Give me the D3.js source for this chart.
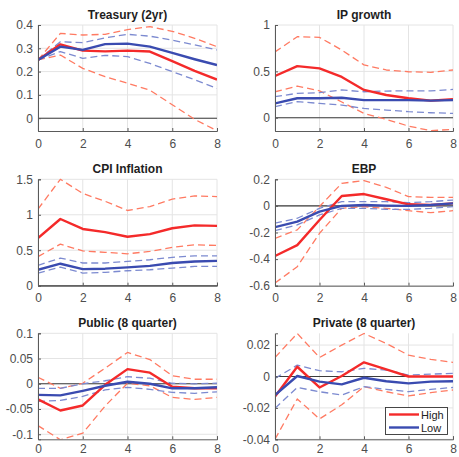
<!DOCTYPE html>
<html>
<head>
<meta charset="utf-8">
<script src="https://cdn.jsdelivr.net/npm/d3@7"></script>
<style>
  html, body { margin: 0; padding: 0; background: #fff; }
  svg { display: block; font-family: "Liberation Sans", Arial, sans-serif; }
</style>
</head>
<body>
<svg id="chart" width="459" height="457"></svg>
<script>
// Impulse responses, quarters 0..8, for the High and Low regimes
const quarters = [0, 1, 2, 3, 4, 5, 6, 7, 8];
const xTicks = [0, 2, 4, 6, 8];

const panelTitles = ["Treasury (2yr)", "IP growth", "CPI Inflation", "EBP", "Public (8 quarter)", "Private (8 quarter)"];
const yDomains = [[-0.055, 0.4], [-0.143, 1], [0, 1.5], [-0.6, 0.2], [-0.11, 0.1], [-0.04, 0.0275]];
const yTicks = [
  [0, 0.1, 0.2, 0.3, 0.4],
  [0, 0.5, 1],
  [0, 0.5, 1, 1.5],
  [-0.6, -0.4, -0.2, 0, 0.2],
  [-0.1, -0.05, 0, 0.05, 0.1],
  [-0.04, -0.02, 0, 0.02]
];
const yTickLabels = [
  ["0", "0.1", "0.2", "0.3", "0.4"],
  ["0", "0.5", "1"],
  ["0", "0.5", "1", "1.5"],
  ["-0.6", "-0.4", "-0.2", "0", "0.2"],
  ["-0.1", "-0.05", "0", "0.05", "0.1"],
  ["-0.04", "-0.02", "0", "0.02"]
];

// Treasury (2yr)
const treasuryHigh   = [0.25, 0.317, 0.29, 0.287, 0.29, 0.286, 0.245, 0.203, 0.166];
const treasuryHighUp = [0.25, 0.364, 0.357, 0.36, 0.38, 0.393, 0.373, 0.343, 0.307];
const treasuryHighLo = [0.25, 0.271, 0.214, 0.178, 0.15, 0.12, 0.058, -0.005, -0.054];
const treasuryLow    = [0.25, 0.307, 0.293, 0.318, 0.32, 0.307, 0.28, 0.253, 0.228];
const treasuryLowUp  = [0.25, 0.328, 0.324, 0.345, 0.36, 0.352, 0.335, 0.315, 0.293];
const treasuryLowLo  = [0.25, 0.286, 0.257, 0.27, 0.264, 0.235, 0.2, 0.165, 0.128];

// IP growth
const ipHigh   = [0.45, 0.557, 0.532, 0.44, 0.30, 0.245, 0.21, 0.185, 0.2];
const ipHighUp = [0.71, 0.874, 0.867, 0.73, 0.57, 0.515, 0.496, 0.49, 0.515];
const ipHighLo = [0.28, 0.342, 0.29, 0.17, 0.047, -0.018, -0.09, -0.14, -0.125];
const ipLow    = [0.155, 0.21, 0.21, 0.215, 0.19, 0.19, 0.19, 0.185, 0.19];
const ipLowUp  = [0.227, 0.263, 0.27, 0.30, 0.28, 0.288, 0.29, 0.29, 0.305];
const ipLowLo  = [0.12, 0.173, 0.155, 0.137, 0.10, 0.083, 0.065, 0.054, 0.047];

// CPI Inflation
const cpiHigh   = [0.67, 0.94, 0.80, 0.755, 0.69, 0.727, 0.81, 0.85, 0.844];
const cpiHighUp = [1.08, 1.5, 1.30, 1.19, 1.06, 1.116, 1.22, 1.266, 1.256];
const cpiHighLo = [0.41, 0.586, 0.49, 0.47, 0.45, 0.483, 0.54, 0.577, 0.567];
const cpiLow    = [0.225, 0.31, 0.234, 0.24, 0.258, 0.28, 0.32, 0.342, 0.35];
const cpiLowUp  = [0.286, 0.39, 0.32, 0.32, 0.342, 0.366, 0.40, 0.42, 0.42];
const cpiLowLo  = [0.178, 0.262, 0.178, 0.188, 0.211, 0.225, 0.248, 0.272, 0.272];

// EBP
const ebpHigh   = [-0.377, -0.295, -0.106, 0.074, 0.089, 0.05, 0.012, 0.007, 0.019];
const ebpHighUp = [-0.244, -0.18, -0.005, 0.17, 0.19, 0.14, 0.07, 0.064, 0.064];
const ebpHighLo = [-0.58, -0.457, -0.206, -0.018, -0.006, -0.018, -0.036, -0.051, -0.036];
const ebpLow    = [-0.16, -0.118, -0.043, 0, 0.007, 0.002, 0, 0.007, 0.019];
const ebpLowUp  = [-0.13, -0.093, -0.018, 0.032, 0.032, 0.032, 0.024, 0.032, 0.044];
const ebpLowLo  = [-0.186, -0.143, -0.068, -0.018, -0.018, -0.026, -0.026, -0.018, -0.006];

// Public (8 quarter)
const pubHigh   = [-0.031, -0.053, -0.043, -0.002, 0.029, 0.022, -0.006, -0.009, -0.009];
const pubHighUp = [0.013, -0.009, 0.001, 0.031, 0.062, 0.048, 0.016, 0.009, 0.009];
const pubHighLo = [-0.083, -0.111, -0.098, -0.044, 0.001, -0.004, -0.027, -0.031, -0.027];
const pubLow    = [-0.022, -0.023, -0.014, -0.004, 0.004, 0, -0.009, -0.009, -0.007];
const pubLowUp  = [-0.009, -0.009, 0, 0.006, 0.014, 0.011, 0.001, 0, 0.001];
const pubLowLo  = [-0.035, -0.033, -0.025, -0.012, -0.007, -0.011, -0.017, -0.019, -0.016];

// Private (8 quarter)
const privHigh   = [-0.0128, 0.0062, -0.007, 0.0003, 0.009, 0.0045, 0, 0, 0];
const privHighUp = [0.0121, 0.0274, 0.0121, 0.02, 0.0274, 0.021, 0.0136, 0.0109, 0.009];
const privHighLo = [-0.04, -0.0143, -0.027, -0.018, -0.0065, -0.0097, -0.0124, -0.0103, -0.0086];
const privLow    = [-0.0118, 0.0003, -0.0033, -0.005, -0.0008, -0.003, -0.0044, -0.0033, -0.003];
const privLowUp  = [-0.0012, 0.0072, 0.0037, 0.003, 0.0052, 0.0041, 0.0009, 0.0015, 0.002];
const privLowLo  = [-0.0203, -0.007, -0.0097, -0.0118, -0.0065, -0.0082, -0.0097, -0.0082, -0.007];

const panelSeries = [
  { high: treasuryHigh, highUp: treasuryHighUp, highLo: treasuryHighLo, low: treasuryLow, lowUp: treasuryLowUp, lowLo: treasuryLowLo },
  { high: ipHigh, highUp: ipHighUp, highLo: ipHighLo, low: ipLow, lowUp: ipLowUp, lowLo: ipLowLo },
  { high: cpiHigh, highUp: cpiHighUp, highLo: cpiHighLo, low: cpiLow, lowUp: cpiLowUp, lowLo: cpiLowLo },
  { high: ebpHigh, highUp: ebpHighUp, highLo: ebpHighLo, low: ebpLow, lowUp: ebpLowUp, lowLo: ebpLowLo },
  { high: pubHigh, highUp: pubHighUp, highLo: pubHighLo, low: pubLow, lowUp: pubLowUp, lowLo: pubLowLo },
  { high: privHigh, highUp: privHighUp, highLo: privHighLo, low: privLow, lowUp: privLowUp, lowLo: privLowLo }
];

const legendLabels = ["High", "Low"];

// Layout of the 3x2 grid of axes
const colX = [[38, 217], [275, 453]];
const rowY = [[25, 131], [179.3, 285.7], [333.3, 439.3]];
const xLabelPad = [8, 8, 5.5];

const COLORS = {
  high: "#f42a2a",
  highBand: "#ff7a62",
  low: "#3a4bb0",
  lowBand: "#7c8ad0",
  axis: "#5a5a5a",
  grid: "#e4e4e4",
  zero: "#3c3c3c",
  tickText: "#4d4d4d",
  title: "#1e1e1e"
};

const svg = d3.select("#chart");

panelTitles.forEach((title, i) => {
  const col = i % 2, row = Math.floor(i / 2);
  const [x0, x1] = colX[col];
  const [y0, y1] = rowY[row];
  const x = d3.scaleLinear().domain([0, 8]).range([x0, x1]);
  const y = d3.scaleLinear().domain(yDomains[i]).range([y1, y0]);
  const g = svg.append("g");

  // grid
  g.append("g").selectAll("line.gx").data(xTicks).join("line")
    .attr("x1", d => x(d)).attr("x2", d => x(d))
    .attr("y1", y0).attr("y2", y1)
    .attr("stroke", COLORS.grid).attr("stroke-width", 1);
  g.append("g").selectAll("line.gy").data(yTicks[i]).join("line")
    .attr("x1", x0).attr("x2", x1)
    .attr("y1", d => y(d)).attr("y2", d => y(d))
    .attr("stroke", COLORS.grid).attr("stroke-width", 1);

  // zero reference line
  g.append("line")
    .attr("x1", x0).attr("x2", x1)
    .attr("y1", y(0)).attr("y2", y(0))
    .attr("stroke", COLORS.zero).attr("stroke-width", 1.1);

  // clip the curves to the axes box
  const clipId = "clip" + i;
  svg.append("clipPath").attr("id", clipId)
    .append("rect").attr("x", x0).attr("y", y0 - 1)
    .attr("width", x1 - x0).attr("height", y1 - y0 + 1);

  const line = d3.line().x((d, k) => x(quarters[k])).y(d => y(d));
  const s = panelSeries[i];
  const curves = g.append("g").attr("clip-path", `url(#${clipId})`);

  const draw = (vals, color, width, dash) => {
    curves.append("path").datum(vals)
      .attr("d", line)
      .attr("fill", "none")
      .attr("stroke", color)
      .attr("stroke-width", width)
      .attr("stroke-linejoin", "round")
      .attr("stroke-dasharray", dash || null);
  };

  draw(s.highUp, COLORS.highBand, 1.3, "7,4");
  draw(s.highLo, COLORS.highBand, 1.3, "7,4");
  draw(s.lowUp, COLORS.lowBand, 1.3, "7,4");
  draw(s.lowLo, COLORS.lowBand, 1.3, "7,4");
  draw(s.high, COLORS.high, 2.4);
  draw(s.low, COLORS.low, 2.4);

  // axes (left and bottom, ticks pointing inward)
  const xAxis = d3.axisBottom(x).tickValues(xTicks).tickSize(-3).tickPadding(xLabelPad[row]).tickFormat(d3.format("d"));
  const yAxis = d3.axisLeft(y).tickValues(yTicks[i]).tickSize(-3).tickPadding(5)
    .tickFormat((d, k) => yTickLabels[i][k]);

  const gx = g.append("g").attr("transform", `translate(0,${y1})`).call(xAxis);
  const gy = g.append("g").attr("transform", `translate(${x0},0)`).call(yAxis);
  [gx, gy].forEach(a => {
    a.select(".domain").attr("stroke", COLORS.axis).attr("stroke-width", 1);
    a.selectAll(".tick line").attr("stroke", COLORS.axis);
    a.selectAll(".tick text")
      .attr("fill", COLORS.tickText)
      .style("font-size", "12px")
      .style("font-family", "'Liberation Sans', Arial, sans-serif");
  });

  // title
  g.append("text")
    .attr("x", (x0 + x1) / 2).attr("y", y0 - 6)
    .attr("text-anchor", "middle")
    .attr("fill", COLORS.title)
    .style("font-size", "12px").style("font-weight", "bold")
    .text(title);
});

// legend in the last panel
const lg = svg.append("g");
lg.append("rect").attr("x", 385.5).attr("y", 407.5).attr("width", 62).attr("height", 27)
  .attr("fill", "#fff").attr("stroke", "#333").attr("stroke-width", 0.9);
const legendColors = [COLORS.high, COLORS.low];
legendLabels.forEach((lab, k) => {
  const yy = 414.5 + k * 13;
  lg.append("line").attr("x1", 389).attr("x2", 419).attr("y1", yy).attr("y2", yy)
    .attr("stroke", legendColors[k]).attr("stroke-width", 2.4);
  lg.append("text").attr("x", 421).attr("y", yy + 4)
    .attr("fill", "#222").style("font-size", "11px").text(lab);
});
</script>
</body>
</html>
